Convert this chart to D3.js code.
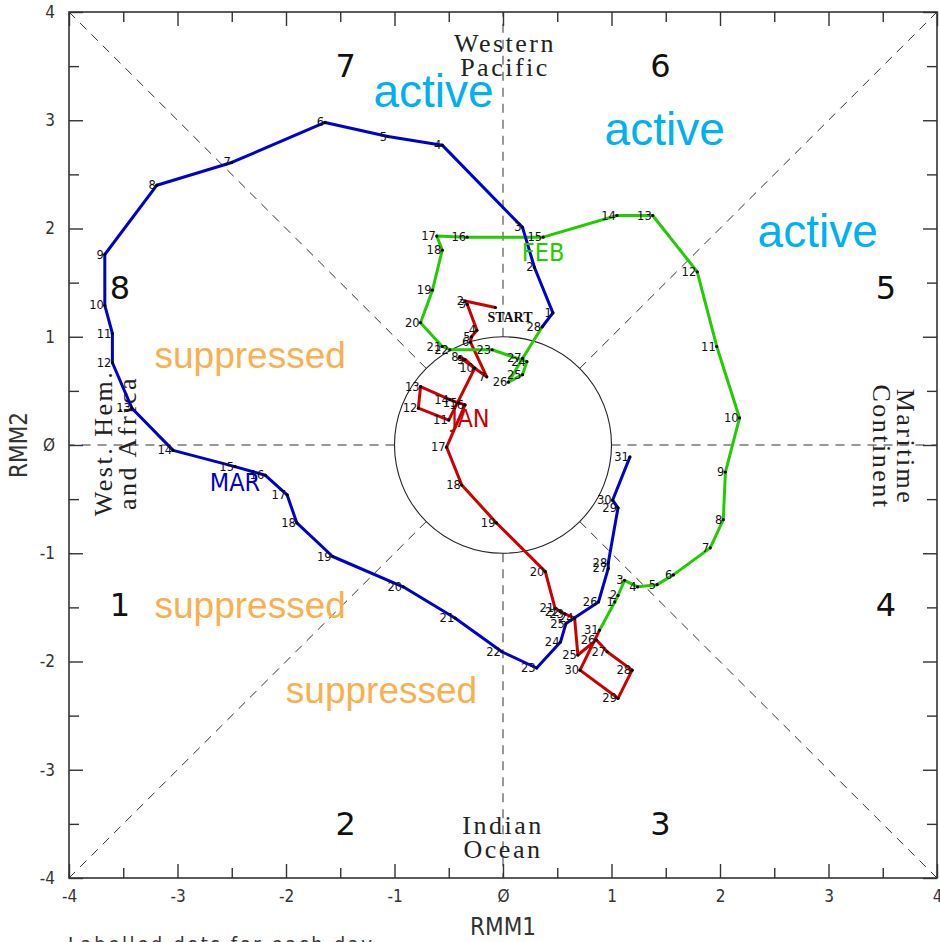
<!DOCTYPE html>
<html><head><meta charset="utf-8">
<script src="https://cdn.jsdelivr.net/npm/d3@7/dist/d3.min.js"></script>
<style>html,body{margin:0;padding:0;background:#fff;overflow:hidden}</style>
</head><body>
<svg id="c" width="940" height="942"></svg>
<script>
// ---- data (RMM1, RMM2) per day ----
const janDays = [
 [-0.07,1.27],[-0.35,1.33],[-0.33,1.30],[-0.24,1.06],[-0.29,1.00],[-0.30,0.95],[-0.15,0.63],
 [-0.40,0.81],[-0.35,0.79],[-0.26,0.71],[-0.50,0.23],[-0.78,0.34],[-0.76,0.54],[-0.49,0.42],
 [-0.41,0.39],[-0.35,0.37],[-0.52,-0.02],[-0.38,-0.37],[-0.06,-0.72],[0.39,-1.17],[0.48,-1.51],
 [0.53,-1.54],[0.57,-1.56],[0.66,-1.60],[0.69,-1.94],[0.86,-1.80],[0.96,-1.91],[1.19,-2.08],
 [1.06,-2.34],[0.71,-2.08],[0.89,-1.71]];
const febDays = [
 [1.03,-1.45],[1.06,-1.39],[1.12,-1.25],[1.24,-1.31],[1.42,-1.29],[1.57,-1.20],[1.91,-0.95],
 [2.03,-0.69],[2.05,-0.25],[2.18,0.25],[1.97,0.91],[1.79,1.60],[1.38,2.12],[1.05,2.12],
 [0.37,1.92],[-0.33,1.92],[-0.61,1.93],[-0.56,1.80],[-0.65,1.43],[-0.76,1.13],[-0.56,0.91],
 [-0.49,0.88],[-0.10,0.88],[0.22,0.77],[0.18,0.65],[0.05,0.58],[0.18,0.80],[0.36,1.09]];
const marDays = [
 [0.46,1.22],[0.29,1.64],[0.18,2.01],[-0.56,2.77],[-1.06,2.85],[-1.64,2.98],[-2.50,2.61],
 [-3.19,2.40],[-3.67,1.76],[-3.67,1.29],[-3.60,1.03],[-3.60,0.76],[-3.42,0.34],[-3.04,-0.05],
 [-2.47,-0.20],[-2.19,-0.28],[-1.99,-0.46],[-1.90,-0.72],[-1.57,-1.03],[-0.92,-1.31],[-0.44,-1.60],
 [-0.01,-1.91],[0.31,-2.06],[0.53,-1.82],[0.58,-1.65],[0.88,-1.45],[0.97,-1.14],[0.97,-1.09],
 [1.06,-0.58],[1.01,-0.51],[1.17,-0.11]];
const monthNames = ["JAN","FEB","MAR"];
const monthColors = ["#CC0000","#22CC00","#0000CC"];
const phaseLabels = [
 {p:"1",x:-3.53,y:-1.48},{p:"2",x:-1.45,y:-3.50},{p:"3",x:1.45,y:-3.50},{p:"4",x:3.53,y:-1.48},
 {p:"5",x:3.53,y:1.45},{p:"6",x:1.45,y:3.5},{p:"7",x:-1.45,y:3.5},{p:"8",x:-3.53,y:1.45}];
const annotations = [
 {t:"active",x:-0.64,y:3.27,c:"#00B0F0",s:46},{t:"active",x:1.49,y:2.92,c:"#00B0F0",s:46},
 {t:"active",x:2.90,y:1.98,c:"#00B0F0",s:46},
 {t:"suppressed",x:-2.33,y:0.83,c:"#F9B050",s:37},{t:"suppressed",x:-2.33,y:-1.48,c:"#F9B050",s:37},
 {t:"suppressed",x:-1.12,y:-2.27,c:"#F9B050",s:37}];
const tickMajor = [-4,-3,-2,-1,0,1,2,3,4];
const tickMinor = [-3.5,-2.5,-1.5,-0.5,0.5,1.5,2.5,3.5];

const svg = d3.select("#c");
const x = d3.scaleLinear([-4,4],[69,937]);
const y = d3.scaleLinear([-4,4],[878,12]);
const narrow = "'Liberation Sans Narrow','DejaVu Sans Condensed','Liberation Sans',sans-serif";
const fmt = v => v===0 ? "Ø" : String(v).replace("\u2212","-");

// dashed phase lines (outside unit circle)
const g0 = svg.append("g");
for (let k=0;k<8;k++){
  const a = k*Math.PI/4, c=Math.cos(a), s=Math.sin(a);
  const m = 4/Math.max(Math.abs(c),Math.abs(s));
  g0.append("line").attr("x1",x(c)).attr("y1",y(s)).attr("x2",x(c*m)).attr("y2",y(s*m))
    .attr("stroke","#333").attr("stroke-width",1).attr("stroke-dasharray","9,7");
}
g0.append("ellipse").attr("cx",x(0)).attr("cy",y(0)).attr("rx",x(1)-x(0)).attr("ry",y(0)-y(1))
  .attr("fill","none").attr("stroke","#222").attr("stroke-width",1.1);

// frame & axes
svg.append("rect").attr("x",x(-4)).attr("y",y(4)).attr("width",x(4)-x(-4)).attr("height",y(-4)-y(4))
  .attr("fill","none").attr("stroke","#333").attr("stroke-width",1.6);
function ax(gen, tx, ty, vals, len, lab){
  const g = svg.append("g").attr("transform",`translate(${tx},${ty})`)
   .call(gen.tickValues(vals).tickSizeInner(-len).tickSizeOuter(0).tickPadding(lab?lab:0).tickFormat(lab?fmt:()=>""));
  g.select(".domain").remove();
  g.selectAll(".tick line").attr("stroke","#333").attr("stroke-width",1.4);
  g.selectAll("text").attr("font-family",narrow).attr("font-size",17).attr("fill","#333");
  return g;
}
ax(d3.axisBottom(x),0,y(-4),tickMajor,14,12);
ax(d3.axisBottom(x),0,y(-4),tickMinor,10,0);
ax(d3.axisTop(x),0,y(4),tickMajor,14,0);
ax(d3.axisTop(x),0,y(4),tickMinor,10,0);
ax(d3.axisLeft(y),x(-4),0,tickMajor,14,14);
ax(d3.axisLeft(y),x(-4),0,tickMinor,10,0);
ax(d3.axisRight(y),x(4),0,tickMajor,14,0);
ax(d3.axisRight(y),x(4),0,tickMinor,10,0);

svg.append("text").attr("x",x(0)).attr("y",935).attr("text-anchor","middle")
  .attr("font-family",narrow).attr("font-size",24).attr("fill","#333").text("RMM1");
svg.append("text").attr("transform",`translate(27,${y(0)}) rotate(-90)`).attr("text-anchor","middle")
  .attr("font-family",narrow).attr("font-size",24).attr("fill","#333").text("RMM2");
svg.append("text").attr("x",68).attr("y",951).attr("font-family",narrow).attr("font-size",20)
  .attr("letter-spacing",2.6).attr("fill","#333").text("Labelled dots for each day");

// region labels
const serif = "'Liberation Serif','DejaVu Serif',serif";
function two(t1,t2,cx,cy,rot){
  const g = svg.append("g").attr("transform",`translate(${cx},${cy}) rotate(${rot})`);
  [t1,t2].forEach((t,i)=>g.append("text").attr("y",i*24).attr("text-anchor","middle")
    .attr("font-family",serif).attr("font-size",26).attr("letter-spacing",2.5).attr("fill","#222").text(t));
}
two("Western","Pacific",x(0)+2,52,0);
two("Indian","Ocean",x(0)+0,834,0);
two("West. Hem.","and Africa",112,y(0)-2,-90);
two("Maritime","Continent",897,y(0)+2,90);

// phase numbers
svg.append("g").selectAll("text").data(phaseLabels).join("text")
  .attr("x",d=>x(d.x)).attr("y",d=>y(d.y)).attr("text-anchor","middle").attr("dominant-baseline","central")
  .attr("font-family","'DejaVu Sans',sans-serif").attr("font-size",32).attr("fill","#111").text(d=>d.p);

// trajectories
const months = [janDays,febDays,marDays];
const line = d3.line().x(d=>x(d[0])).y(d=>y(d[1]));
months.forEach((days,i)=>{
  const pts = i>0 ? [months[i-1][months[i-1].length-1]].concat(days) : days;
  svg.append("path").attr("d",line(pts)).attr("fill","none").attr("stroke",monthColors[i])
    .attr("stroke-width",3).attr("stroke-linejoin","round");
});
months.forEach((days,i)=>{
  const g = svg.append("g");
  g.selectAll("circle").data(days).join("circle").attr("cx",d=>x(d[0])).attr("cy",d=>y(d[1]))
    .attr("r",1.6).attr("fill","#000");
  g.selectAll("text").data(days.map((d,j)=>({d,j}))).join("text")
    .filter(o=>!(i===0&&o.j===0))
    .attr("x",o=>x(o.d[0])-1).attr("y",o=>y(o.d[1])).attr("dy","0.35em").attr("text-anchor","end")
    .attr("font-family","'DejaVu Sans',sans-serif").attr("font-size",11.5).attr("fill","#111").text(o=>o.j+1);
  const m = days[14];
  svg.append("text").attr("x",x(m[0])+(i===0?12:0)).attr("y",y(m[1])+24).attr("text-anchor","middle")
    .attr("font-family",narrow).attr("font-size",25).attr("fill",monthColors[i]).text(monthNames[i]);
});
svg.append("text").attr("x",x(janDays[0][0])-8).attr("y",y(janDays[0][1])+14)
  .attr("font-family",serif).attr("font-weight","bold").attr("font-size",14).attr("fill","#111").text("START");

// annotations
svg.append("g").selectAll("text").data(annotations).join("text")
  .attr("x",d=>x(d.x)).attr("y",d=>y(d.y)).attr("text-anchor","middle").attr("dominant-baseline","central")
  .attr("font-family","'Liberation Sans',Arial,sans-serif").attr("font-size",d=>d.s).attr("fill",d=>d.c).text(d=>d.t);
</script>
</body></html>
